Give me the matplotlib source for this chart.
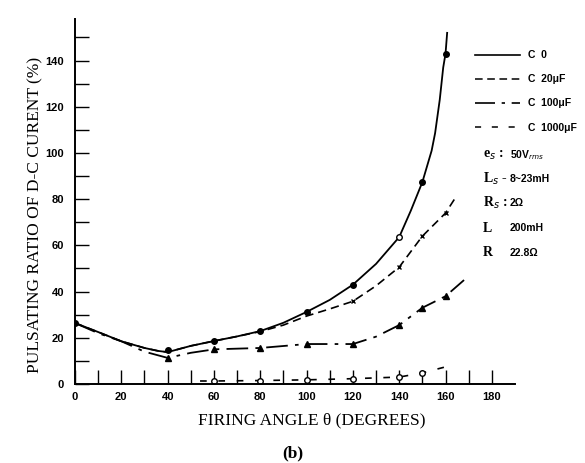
import matplotlib
matplotlib.use('Agg')
import matplotlib.pyplot as plt
from matplotlib.lines import Line2D

# --- data (firing angle in degrees, ratio in %) ---
c0_x = [0, 10, 20, 30, 36, 40, 50, 60, 70, 80, 90, 100, 110, 120, 130, 140, 145, 150, 154, 155.5, 157.5, 159, 160, 160.7]
c0_y = [26.4, 22.5, 18.5, 15.6, 14.3, 13.8, 16.5, 18.6, 20.6, 22.9, 26.5, 31.2, 36.4, 43, 52, 63.6, 75, 87.4, 101, 108.6, 123, 137, 143, 152]
c0_mx = [0, 40, 60, 80, 100, 120, 150, 160]
c0_my = [26.4, 14.7, 18.6, 22.9, 31.2, 43, 87.4, 143]
c0_ox = [140]
c0_oy = [63.6]

c20_x = [0, 10, 20, 30, 36, 40, 50, 60, 70, 80, 90, 100, 110, 120, 130, 140, 150, 160, 164.5]
c20_y = [26.4, 22.5, 18.5, 15.6, 14.3, 13.8, 16.5, 18.6, 20.6, 22.7, 25.5, 29.4, 32.5, 35.8, 42.5, 50.6, 64, 74, 81]
c20_mx = [120, 140, 150, 160]
c20_my = [35.8, 50.6, 64, 74]

c100_x = [0, 10, 20, 30, 40, 50, 60, 80, 100, 120, 130, 140, 150, 160, 168]
c100_y = [26.4, 22, 18.5, 14, 11.3, 13.5, 15, 15.6, 17.3, 17.3, 20.5, 25.5, 33, 38, 45]
c100_mx = [40, 60, 80, 100, 120, 140, 150, 160]
c100_my = [11.3, 15, 15.6, 17.3, 17.3, 25.5, 33, 38]

c1000_x = [54, 60, 80, 100, 120, 140, 150, 163]
c1000_y = [1.3, 1.3, 1.5, 1.8, 2.3, 3, 4.8, 8.2]
c1000_mx = [60, 80, 100, 120, 140, 150]
c1000_my = [1.3, 1.5, 1.8, 2.3, 3, 4.8]

legend_labels = ['C  0', 'C  20\u03bcF', 'C  100\u03bcF', 'C  1000\u03bcF']
param_names = ['e$_s$ :', 'L$_s$ -', 'R$_s$ :', 'L', 'R']
param_values = ['50V$_{rms}$', '8~23mH', '2\u03a9', '200mH', '22.8\u03a9']

sans = ['Liberation Sans', 'DejaVu Sans']
serif = ['Liberation Serif', 'DejaVu Serif']

fig = plt.figure(figsize=(5.85, 4.63), dpi=100)
ax = fig.add_axes([75 / 585, 79 / 463, 440 / 585, 365 / 463])

ls20 = (0, (5, 3))
ls100 = (0, (12, 4, 2, 4))
ls1000 = (0, (4, 7))

ax.plot(c0_x, c0_y, color='black', lw=1.3, ls='-')
ax.plot(c0_mx, c0_my, 'o', color='black', ms=4)
ax.plot(c0_ox, c0_oy, 'o', mfc='white', mec='black', mew=1.0, ms=4)

ax.plot(c20_x, c20_y, color='black', lw=1.2, ls=ls20)
ax.plot(c20_mx, c20_my, 'x', color='black', ms=3.5, mew=1.0)

ax.plot(c100_x, c100_y, color='black', lw=1.3, ls=ls100)
ax.plot(c100_mx, c100_my, '^', color='black', ms=4)

ax.plot(c1000_x, c1000_y, color='black', lw=1.2, ls=ls1000)
ax.plot(c1000_mx, c1000_my, 'o', mfc='white', mec='black', mew=1.0, ms=4)

ax.set_xlim(0, 190)
ax.set_ylim(0, 158)
ax.spines['top'].set_visible(False)
ax.spines['right'].set_visible(False)
ax.spines['left'].set_linewidth(1.4)
ax.spines['bottom'].set_linewidth(1.4)

ax.set_xticks(range(0, 181, 20))
ax.set_xticks(range(10, 181, 10), minor=True)
ax.set_yticks(range(0, 141, 20))
ax.set_yticks(range(10, 151, 10), minor=True)
ax.tick_params(which='both', direction='in', length=10, width=1.0)
ax.tick_params(axis='x', which='major', pad=6)
ax.tick_params(axis='y', which='major', pad=8)
for lab in ax.get_xticklabels() + ax.get_yticklabels():
    lab.set_family(sans)
    lab.set_fontsize(8)
    lab.set_fontweight('bold')

handles = [
    Line2D([], [], color='black', lw=1.2, ls='-'),
    Line2D([], [], color='black', lw=1.1, ls=ls20),
    Line2D([], [], color='black', lw=1.2, ls=ls100),
    Line2D([], [], color='black', lw=1.1, ls=ls1000),
]
fig.legend(handles, legend_labels, loc='upper left',
           bbox_to_anchor=(466 / 585, 1 - 41 / 463), frameon=False,
           handlelength=4.3, handletextpad=0.8, labelspacing=1.35,
           prop={'family': sans, 'size': 7.5, 'weight': 'bold'})

rows = [155, 179, 203, 228, 253]
for name, val, yp in zip(param_names, param_values, rows):
    fig.text(483 / 585, 1 - yp / 463, name, family=serif, fontsize=10,
             fontweight='bold', va='center', ha='left')
    fig.text(510 / 585, 1 - yp / 463, val, family=sans, fontsize=7.5,
             fontweight='bold', va='center', ha='left')

fig.text(35 / 585, 1 - 215 / 463, 'PULSATING RATIO OF D-C CURENT (%)',
         family=serif, fontsize=12.5, rotation=90, va='center', ha='center')
fig.text(312 / 585, 1 - 420 / 463, 'FIRING ANGLE \u03b8 (DEGREES)',
         family=serif, fontsize=12.5, va='center', ha='center')
fig.text(293 / 585, 1 - 453 / 463, '(b)', family=serif, fontsize=12.5,
         fontweight='bold', va='center', ha='center')

fig.savefig('out.png', dpi=100)
